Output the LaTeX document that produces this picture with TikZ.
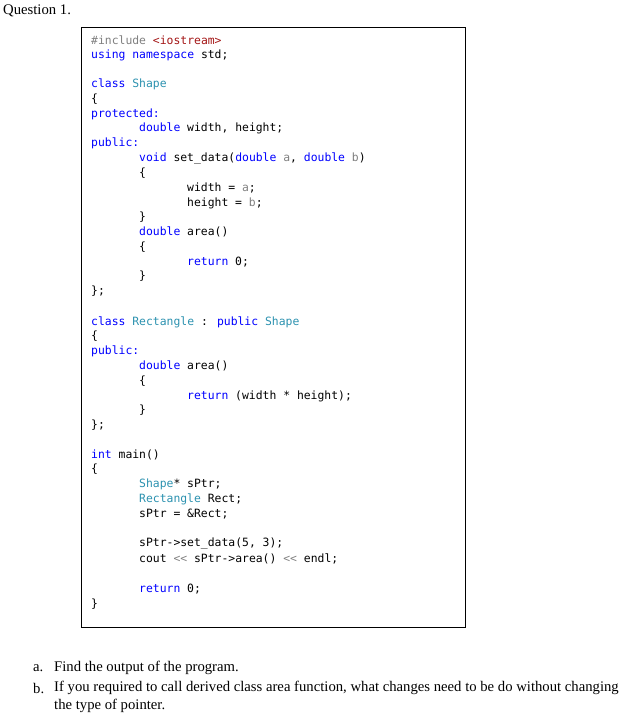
\documentclass[tikz,border=0pt]{standalone}
\usepackage{fontspec}
\setmainfont{Liberation Serif}
\newfontfamily\codefont{DejaVu Sans Mono}
\definecolor{kwblue}{RGB}{0,0,255}
\definecolor{tyteal}{RGB}{43,145,175}
\definecolor{pagray}{RGB}{128,128,128}
\definecolor{strbrown}{RGB}{163,21,21}
\newcommand{\kw}[1]{\textcolor{kwblue}{#1}}
\newcommand{\ty}[1]{\textcolor{tyteal}{#1}}
\newcommand{\pa}[1]{\textcolor{pagray}{#1}}
\tikzset{code/.style={anchor=west, inner sep=0pt, font=\codefont\fontsize{11.4}{14}\selectfont},
         txt/.style={anchor=west, inner sep=0pt, font=\fontsize{14.7}{17}\selectfont}}
\begin{document}
\begin{tikzpicture}[x=1pt, y=-1pt]
\useasboundingbox (0,0) rectangle (622,713);
\node[txt] (q) at (3,11) {Question 1.};
\draw[line width=0.8pt] (81,27) rectangle (465,627);
% code lines
\node[code] (l1) at (91,40) {\pa{\#include} \textcolor{strbrown}{<iostream>}};
\node[code] (l2) at (91,55) {\kw{using namespace} std;};
\node[code] (l3) at (91,84) {\kw{class} \ty{Shape}};
\node[code] (l4) at (91,99) {\{};
\node[code] (l5) at (91,114) {\kw{protected:}};
\node[code] (l6) at (139,128) {\kw{double} width, height;};
\node[code] (l7) at (91,143) {\kw{public:}};
\node[code] (l8) at (139,158) {\kw{void} set\_data(\kw{double} \pa{a}, \kw{double} \pa{b})};
\node[code] (l9) at (139,173) {\{};
\node[code] (l10) at (187,188) {width = \pa{a};};
\node[code] (l11) at (187,203) {height = \pa{b};};
\node[code] (l12) at (139,217) {\}};
\node[code] (l13) at (139,232) {\kw{double} area()};
\node[code] (l14) at (139,247) {\{};
\node[code] (l15) at (187,262) {\kw{return} 0;};
\node[code] (l16) at (139,276) {\}};
\node[code] (l17) at (91,291) {\};};
\node[code] (l18) at (91,322) {\kw{class} \ty{Rectangle} : \kw{public} \ty{Shape}};
\node[code] (l19) at (91,336) {\{};
\node[code] (l20) at (91,351) {\kw{public:}};
\node[code] (l21) at (139,366) {\kw{double} area()};
\node[code] (l22) at (139,381) {\{};
\node[code] (l23) at (187,396) {\kw{return} (width * height);};
\node[code] (l24) at (139,410) {\}};
\node[code] (l25) at (91,425) {\};};
\node[code] (l26) at (91,455) {\kw{int} main()};
\node[code] (l27) at (91,469) {\{};
\node[code] (l28) at (139,484) {\ty{Shape}* sPtr;};
\node[code] (l29) at (139,499) {\ty{Rectangle} Rect;};
\node[code] (l30) at (139,514) {sPtr = \&Rect;};
\node[code] (l31) at (139,544) {sPtr->set\_data(5, 3);};
\node[code] (l32) at (139,559) {cout \pa{<<} sPtr->area() \pa{<<} endl;};
\node[code] (l33) at (139,589) {\kw{return} 0;};
\node[code] (l34) at (91,604) {\}};
% questions
\node[txt] (ma) at (33,668) {a.};
\node[txt] (qa) at (54,668) {Find the output of the program.};
\node[txt] (mb) at (33,688) {b.};
\node[txt] (qb) at (54,688) {If you required to call derived class area function, what changes need to be do without changing};
\node[txt] (qb2) at (54,706) {the type of pointer.};
\end{tikzpicture}
\end{document}
